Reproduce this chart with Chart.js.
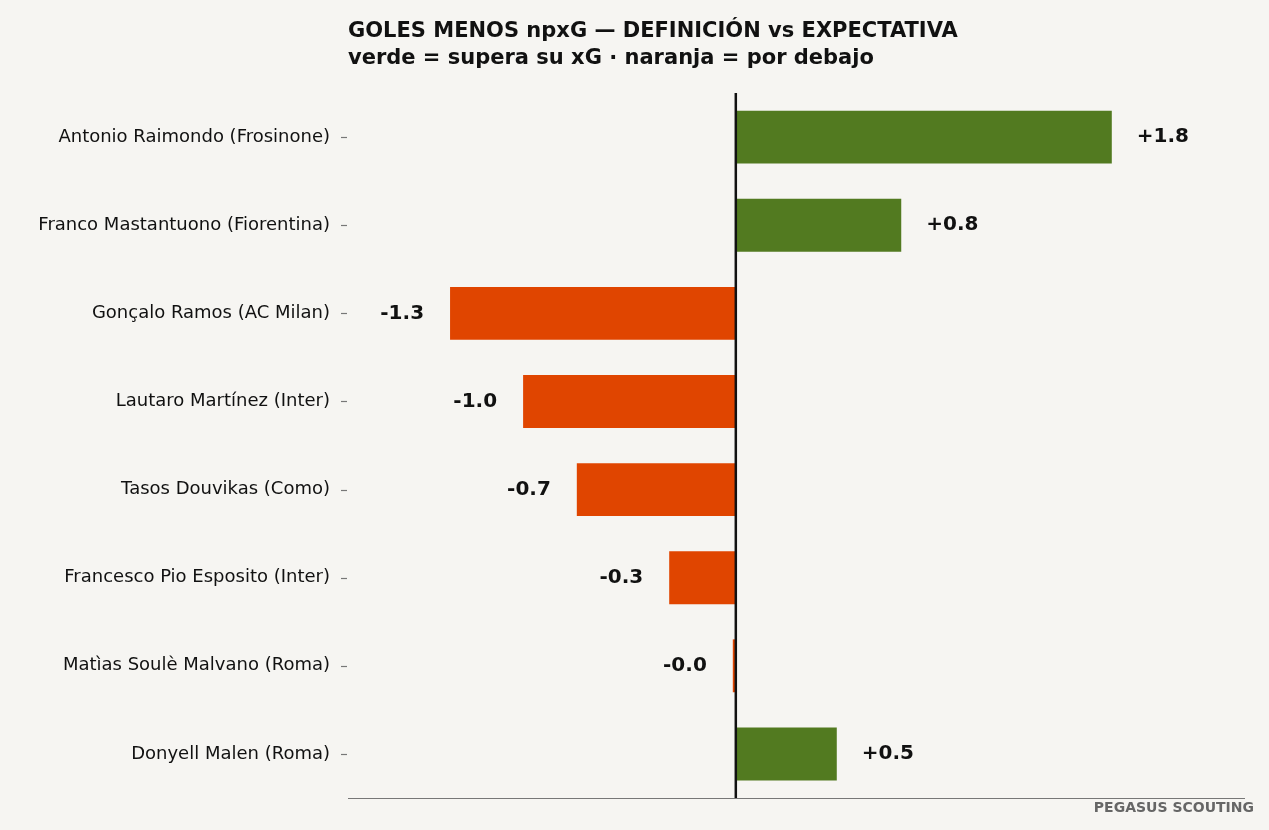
<!DOCTYPE html>
<html><head><meta charset="utf-8">
<script src="https://cdn.jsdelivr.net/npm/chart.js@4"></script>
<style>html,body{margin:0;background:#f6f5f2;}#c{display:block;}</style>
</head><body>
<div style="width:1269px;height:830px;"><canvas id="c"></canvas></div>
<script>
const players = ["Antonio Raimondo (Frosinone)","Franco Mastantuono (Fiorentina)","Gonçalo Ramos (AC Milan)","Lautaro Martínez (Inter)","Tasos Douvikas (Como)","Francesco Pio Esposito (Inter)","Matìas Soulè Malvano (Roma)","Donyell Malen (Roma)"];
const diffs = [1.75, 0.77, -1.33, -0.99, -0.74, -0.31, -0.014, 0.47];
const titleLines = ["GOLES MENOS npxG — DEFINICIÓN vs EXPECTATIVA","verde = supera su xG · naranja = por debajo"];
const GREEN="#527a20", ORANGE="#e04500";
const fmt=v=>(v>=0?"+":"-")+Math.abs(v).toFixed(1);
const deco={id:"deco",
 beforeDraw(c){const x=c.ctx;x.save();x.fillStyle="#f6f5f2";x.fillRect(0,0,c.width,c.height);x.restore();},
 afterDatasetsDraw(c){
  const x=c.ctx,s=c.scales.x,y=c.scales.y,a=c.chartArea;x.save();
  const z=s.getPixelForValue(0);
  x.strokeStyle="#111";x.lineWidth=2.5;x.beginPath();x.moveTo(z,a.top);x.lineTo(z,a.bottom);x.stroke();
  x.strokeStyle="#777";x.lineWidth=1.2;x.beginPath();x.moveTo(a.left,a.bottom+0.5);x.lineTo(a.right,a.bottom+0.5);x.stroke();
  x.font="bold 20px 'DejaVu Sans'";x.fillStyle="#111";x.textBaseline="middle";
  diffs.forEach((v,i)=>{const px=s.getPixelForValue(v),py=y.getPixelForValue(i);
   if(v>=0){x.textAlign="left";x.fillText(fmt(v),px+25,py);}else{x.textAlign="right";x.fillText(fmt(v),px-26,py);}});
  x.textAlign="left";x.textBaseline="alphabetic";x.font="bold 21px 'DejaVu Sans'";
  x.fillText(titleLines[0],348,37);x.fillText(titleLines[1],348,64);
  x.textAlign="right";x.font="bold 14px 'DejaVu Sans'";x.fillStyle="#666";x.fillText("PEGASUS SCOUTING",1254,812);
  x.restore();}};
new Chart(document.getElementById("c"),{type:"bar",
 data:{labels:players,datasets:[{data:diffs,backgroundColor:diffs.map(v=>v>=0?GREEN:ORANGE),barPercentage:0.6,categoryPercentage:1}]},
 options:{indexAxis:"y",responsive:true,maintainAspectRatio:false,animation:false,
  layout:{padding:{top:93,right:24,bottom:32,left:0}},
  plugins:{legend:{display:false},tooltip:{enabled:false}},
  scales:{
   x:{min:-1.805,max:2.37,display:false},
   y:{grid:{display:false,drawBorder:false},border:{display:false},
      afterFit(sc){sc.width=348;},
      ticks:{color:"#111",font:{family:"DejaVu Sans",size:18},padding:10}}}},
 plugins:[deco,{id:"ticks",afterDraw(c){const x=c.ctx,y=c.scales.y,a=c.chartArea;x.save();x.strokeStyle="#777";x.lineWidth=1.2;
  players.forEach((p,i)=>{const py=Math.round(y.getPixelForValue(i))+0.5;x.beginPath();x.moveTo(a.left-7,py);x.lineTo(a.left-1,py);x.stroke();});x.restore();}}]
});
</script></body></html>
